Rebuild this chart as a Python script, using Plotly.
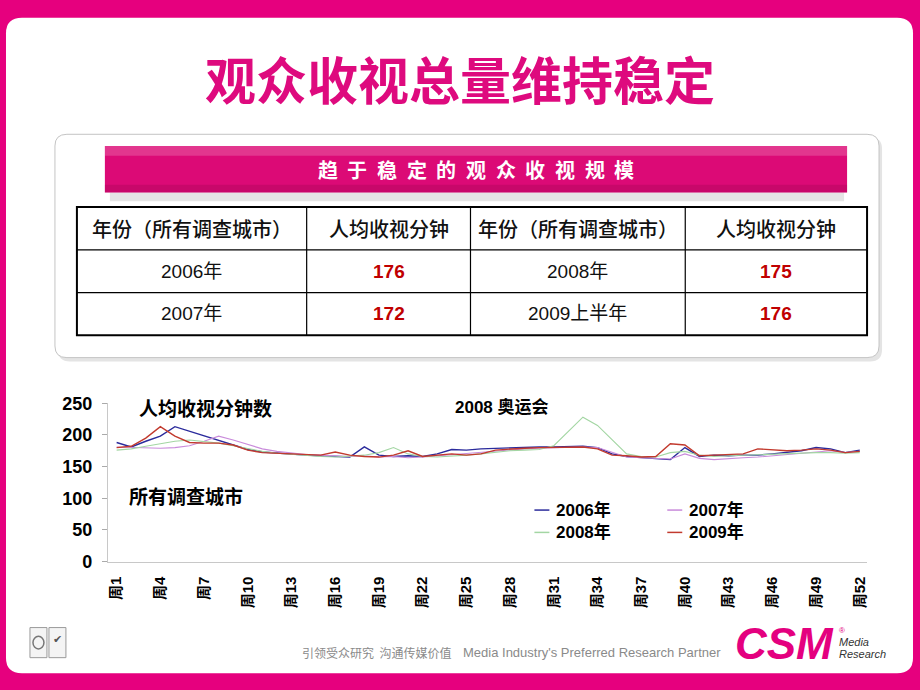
import plotly.graph_objects as go

W, H = 920, 690


def px(x):
    return x / W


def py(y):
    return 1 - y / H


# ---------------- data ----------------
weeks = ["周%d" % i for i in range(1, 53)]
tick_weeks = weeks[::3]

series_names = ["2006年", "2007年", "2008年", "2009年"]

v2006 = [188, 181, 190, 198, 213, 206, 199, 191, 184, 177, 173, 171, 170, 168, 167, 166, 165, 181,
         168, 166, 167, 166, 170, 177, 176, 178, 179, 180, 181, 181, 181, 182, 182, 180, 170, 166,
         164, 162, 161, 180, 166, 168, 167, 168, 168, 170, 172, 175, 180, 178, 172, 176]
v2007 = [181, 180, 180, 179, 180, 183, 190, 198, 192, 185, 178, 174, 171, 169, 168, 167, 166, 167,
         165, 166, 164, 165, 167, 168, 170, 172, 175, 177, 178, 179, 180, 180, 181, 180, 172, 165,
         164, 163, 162, 170, 163, 161, 163, 164, 165, 167, 168, 170, 173, 175, 172, 174]
v2008 = [176, 178, 182, 186, 190, 192, 190, 187, 183, 178, 174, 171, 169, 167, 166, 165, 166, 168,
         172, 180, 170, 166, 165, 166, 168, 170, 173, 175, 176, 177, 183, 205, 228, 215, 192, 170,
         166, 165, 172, 174, 168, 166, 167, 168, 169, 170, 170, 171, 172, 172, 171, 172]
v2009 = [180, 182, 195, 213, 198, 188, 187, 187, 184, 176, 172, 171, 170, 169, 168, 173, 168, 166,
         165, 168, 175, 166, 168, 170, 168, 170, 176, 178, 179, 180, 180, 181, 181, 178, 168, 167,
         165, 166, 186, 184, 167, 168, 169, 170, 178, 177, 175, 176, 178, 176, 172, 174]
series_values = [v2006, v2007, v2008, v2009]
series_colors = ["#2B2B9C", "#C98BDB", "#A3D6A3", "#C23A2E"]
series_widths = [1.4, 1.1, 1.1, 1.4]

table_header = ["年份（所有调查城市）", "人均收视分钟", "年份（所有调查城市）", "人均收视分钟"]
years_left = ["2006年", "2007年"]
minutes_left = [176, 172]
years_right = ["2008年", "2009上半年"]
minutes_right = [175, 176]

title_text = "观众收视总量维持稳定"
banner_text = "趋于稳定的观众收视规模"

CJK = "Noto Sans CJK SC"
LAT = "Liberation Sans, Arial, Noto Sans CJK SC"
MAGENTA = "#E4007F"

fig = go.Figure()
for name, vals, col, lw in zip(series_names, series_values, series_colors, series_widths):
    fig.add_trace(go.Scatter(x=weeks, y=vals, mode="lines", name=name,
                             line=dict(color=col, width=lw), showlegend=False,
                             hoverinfo="skip"))

shapes = []
annotations = []


def rrect_path(x0, y0, x1, y1, r):
    pts = [
        ("M", [(x0 + r, y0)]), ("L", [(x1 - r, y0)]), ("Q", [(x1, y0), (x1, y0 + r)]),
        ("L", [(x1, y1 - r)]), ("Q", [(x1, y1), (x1 - r, y1)]), ("L", [(x0 + r, y1)]),
        ("Q", [(x0, y1), (x0, y1 - r)]), ("L", [(x0, y0 + r)]), ("Q", [(x0, y0), (x0 + r, y0)]),
    ]
    s = ""
    for cmd, ps in pts:
        s += cmd + " " + " ".join("%.5f,%.5f" % (px(a), py(b)) for a, b in ps) + " "
    return s + "Z"


def rect(x0, y0, x1, y1, fill=None, line=None, lw=0, layer="below"):
    shapes.append(dict(type="rect", xref="paper", yref="paper",
                       x0=px(x0), x1=px(x1), y0=py(y1), y1=py(y0),
                       fillcolor=fill if fill else "rgba(0,0,0,0)",
                       line=dict(color=line if line else "rgba(0,0,0,0)", width=lw),
                       layer=layer))


def seg(x0, y0, x1, y1, color, lw, layer="above"):
    shapes.append(dict(type="line", xref="paper", yref="paper",
                       x0=px(x0), x1=px(x1), y0=py(y0), y1=py(y1),
                       line=dict(color=color, width=lw), layer=layer))


def text(x, y, t, size, color="black", family=CJK, weight="normal", xanchor="center",
         yanchor="middle", style="normal"):
    annotations.append(dict(x=px(x), y=py(y), xref="paper", yref="paper", text=t,
                            showarrow=False, xanchor=xanchor, yanchor=yanchor,
                            font=dict(size=size, color=color, family=family, weight=weight,
                                      style=style)))


# white rounded slide on magenta frame
shapes.append(dict(type="path", xref="paper", yref="paper", path=rrect_path(6, 8, 914, 683, 16),
                   fillcolor="white", line=dict(width=0), layer="below"))

# title
text(461, 70, title_text, 51, color="#DE0A7E", weight="bold")

# table box with shadow
shapes.append(dict(type="path", xref="paper", yref="paper", path=rrect_path(58, 131, 883, 362, 12),
                   fillcolor="#E4E4E4", line=dict(width=0), layer="below"))
shapes.append(dict(type="path", xref="paper", yref="paper", path=rrect_path(55, 128, 880, 358, 12),
                   fillcolor="white", line=dict(color="#C4C4C4", width=1), layer="below"))

# banner
rect(110, 188, 845, 197, fill="rgba(0,0,0,0.10)")
rect(105, 140, 848, 188, fill="#DC0A76")
rect(105, 140, 848, 150, fill="rgba(255,255,255,0.18)")
rect(105, 180, 848, 188, fill="rgba(120,0,60,0.20)")
n = len(banner_text)
pitch = 29.7
start = 476.5 - pitch * (n - 1) / 2
for i, ch in enumerate(banner_text):
    text(start + i * pitch, 164, ch, 20, color="white", weight="bold")

# table
col_x = [77, 307, 471, 686, 868]
row_y = [203, 247, 291, 335]
for x in col_x[1:-1]:
    seg(x, row_y[0], x, row_y[-1], "black", 1.2)
for y in row_y[1:-1]:
    seg(col_x[0], y, col_x[-1], y, "black", 1.2)
rect(col_x[0], row_y[0], col_x[-1], row_y[-1], line="black", lw=2, layer="above")
col_c = [(col_x[i] + col_x[i + 1]) / 2 for i in range(4)]
row_c = [(row_y[i] + row_y[i + 1]) / 2 for i in range(3)]
for i, h in enumerate(table_header):
    text(col_c[i], row_c[0], h, 20, color="#111111", weight=500)
for r in range(2):
    text(col_c[0], row_c[r + 1], years_left[r], 19, family=LAT, color="#111111")
    text(col_c[1], row_c[r + 1], str(minutes_left[r]), 19, family=LAT, color="#C00000", weight="bold")
    text(col_c[2], row_c[r + 1], years_right[r], 19, family=LAT, color="#111111")
    text(col_c[3], row_c[r + 1], str(minutes_right[r]), 19, family=LAT, color="#C00000", weight="bold")

# chart labels
text(137, 409, "人均收视分钟数", 19, weight="bold", xanchor="left")
text(453, 409, "2008 奥运会", 17, family=LAT, weight="bold", xanchor="left")
text(127, 500, "所有调查城市", 19, weight="bold", xanchor="left")

# legend (line samples + names)
leg_pos = [(535, 512), (668, 512), (535, 535), (668, 535)]
for (lx, ly), name, col in zip(leg_pos, series_names, series_colors):
    seg(lx, ly + 3, lx + 15, ly + 3, col, 1.5)
    text(lx + 20, ly + 3, name, 17, family=LAT, weight="bold", xanchor="left")

# footer
rect(30, 636, 47, 667, fill="#F4F4F4", line="#9A9A9A", lw=1, layer="above")
rect(49, 636, 66, 667, fill="#F4F4F4", line="#9A9A9A", lw=1, layer="above")
shapes.append(dict(type="circle", xref="paper", yref="paper", x0=px(33), x1=px(44), y0=py(658),
                   y1=py(645), line=dict(color="#777777", width=1.5), layer="above"))
text(57.5, 648, "✔", 11, color="#555555", family="DejaVu Sans")
text(300, 662, "引领受众研究  沟通传媒价值", 12, color="#8A8A8A", family=CJK, xanchor="left")
text(462, 662, "Media Industry's Preferred Research Partner", 13, color="#8A8A8A", family=LAT,
     xanchor="left")
text(785, 652, "CSM", 44, color=MAGENTA, family=LAT, weight="bold", style="italic")
text(838, 651, "Media", 11, color="#333333", family=LAT, style="italic", xanchor="left")
text(838, 663, "Research", 11, color="#333333", family=LAT, style="italic", xanchor="left")
text(843, 639, "®", 8, color=MAGENTA, family=LAT)

fig.update_layout(
    width=W, height=H,
    margin=dict(l=0, r=0, t=0, b=0),
    paper_bgcolor="#E6007E",
    plot_bgcolor="rgba(0,0,0,0)",
    shapes=shapes,
    annotations=annotations,
    showlegend=False,
    xaxis=dict(type="category", categoryorder="array", categoryarray=weeks,
               range=[-0.6, 51.5], domain=[px(108), px(868)],
               tickmode="array", tickvals=tick_weeks, ticktext=tick_weeks,
               tickangle=-90, tickfont=dict(size=15, family=LAT, color="black", weight="bold"),
               showline=True, linecolor="#C8C8C8", linewidth=1, ticks="outside", ticklen=8,
               tickcolor="rgba(0,0,0,0)", showgrid=False, zeroline=False),
    yaxis=dict(range=[0, 250], domain=[py(568), py(405)], tickmode="linear", tick0=0, dtick=50,
               tickfont=dict(size=18, family=LAT, color="black", weight="bold"),
               showline=True, linecolor="#C8C8C8", linewidth=1, ticks="outside", ticklen=5,
               tickcolor="#AAAAAA", showgrid=False, zeroline=False, ticklabelstandoff=6),
)

fig.write_html("out.html")
